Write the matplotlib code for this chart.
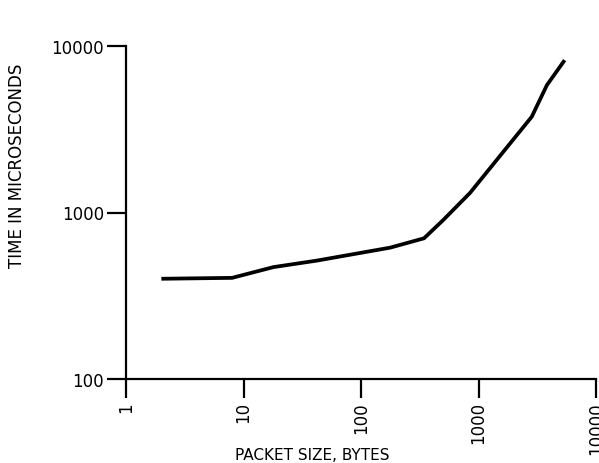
import matplotlib
matplotlib.use("Agg")
import matplotlib.pyplot as plt
import matplotlib.ticker as mticker

plt.rcParams["font.family"] = ["DejaVu Sans"]

# packet size (bytes) vs transfer time (microseconds)
packet_size = [2, 8, 18, 42, 177, 344, 500, 846, 1470, 2840, 3820, 5410]
time_us = [400, 405, 470, 514, 615, 700, 900, 1310, 2120, 3760, 5820, 8220]

x_ticks = [1, 10, 100, 1000, 10000]
y_ticks = [100, 1000, 10000]

fig = plt.figure(figsize=(5.99, 4.64), dpi=100)
ax = fig.add_axes([126 / 599, 1 - 380 / 464, 470 / 599, 333 / 464])

ax.plot(packet_size, time_us, color="black", linewidth=2.7, solid_capstyle="butt")

ax.set_xscale("log")
ax.set_yscale("log")
ax.set_xlim(1, 10000)
ax.set_ylim(100, 10000)

ax.xaxis.set_major_locator(mticker.FixedLocator(x_ticks))
ax.yaxis.set_major_locator(mticker.FixedLocator(y_ticks))
ax.xaxis.set_minor_locator(mticker.NullLocator())
ax.yaxis.set_minor_locator(mticker.NullLocator())
ax.set_xticklabels([str(v) for v in x_ticks], rotation=90, va="top", fontsize=12)
ax.set_yticklabels([str(v) for v in y_ticks], fontsize=12)

for side in ["top", "right"]:
    ax.spines[side].set_visible(False)
for side in ["left", "bottom"]:
    ax.spines[side].set_linewidth(1.6)

ax.tick_params(axis="both", direction="out", length=14, width=1.6, pad=2)

ax.set_ylabel("TIME IN MICROSECONDS", fontsize=12, labelpad=0)
ax.yaxis.set_label_coords(-0.213, 0.643)
ax.set_xlabel("PACKET SIZE, BYTES", fontsize=11)
ax.xaxis.set_label_coords(0.396, -0.205)

fig.savefig("out.png", dpi=100)
